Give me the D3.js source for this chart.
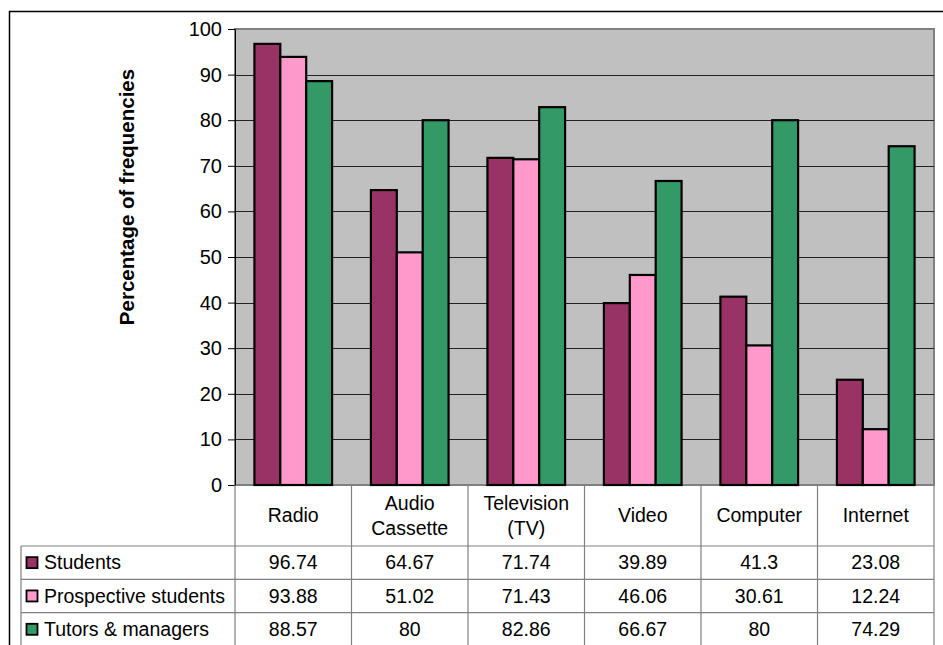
<!DOCTYPE html>
<html><head><meta charset="utf-8">
<script src="https://cdn.jsdelivr.net/npm/d3@7"></script>
<style>body{margin:0;background:#fff}svg{display:block}text{font-family:"Liberation Sans",Arial,sans-serif;fill:#000}</style>
</head><body>
<script>
const categories = ["Radio", "Audio Cassette", "Television (TV)", "Video", "Computer", "Internet"];
const categoryLines = [["Radio"], ["Audio", "Cassette"], ["Television", "(TV)"], ["Video"], ["Computer"], ["Internet"]];
const seriesNames = ["Students", "Prospective students", "Tutors & managers"];
const students = [96.74, 64.67, 71.74, 39.89, 41.3, 23.08];
const prospective = [93.88, 51.02, 71.43, 46.06, 30.61, 12.24];
const tutors = [88.57, 80, 82.86, 66.67, 80, 74.29];
const tableLabels = [
  ["96.74", "64.67", "71.74", "39.89", "41.3", "23.08"],
  ["93.88", "51.02", "71.43", "46.06", "30.61", "12.24"],
  ["88.57", "80", "82.86", "66.67", "80", "74.29"]
];
const yTicks = [0, 10, 20, 30, 40, 50, 60, 70, 80, 90, 100];
const colors = ["#993366", "#FF99CC", "#339966"];
const yTitle = "Percentage of frequencies";

const seriesValues = [students, prospective, tutors];
const W = 943, H = 645;
const svg = d3.select("body").append("svg").attr("width", W).attr("height", H);

// outer chart border
svg.append("rect").attr("x", 9.5).attr("y", 11.5).attr("width", W + 20).attr("height", H + 20)
  .attr("fill", "#fff").attr("stroke", "#000").attr("stroke-width", 1.5);

const plot = {left: 235, right: 934, top: 29, bottom: 485};
const x0 = d3.scaleBand().domain(categories).range([plot.left, plot.right]).paddingInner(0).paddingOuter(0);
const x1 = d3.scaleBand().domain(seriesNames).range([0, x0.bandwidth()]).paddingInner(0).paddingOuter(0.75);
const y = d3.scaleLinear().domain([0, 100]).range([plot.bottom, plot.top]);

// plot background
svg.append("rect").attr("x", plot.left).attr("y", plot.top)
  .attr("width", plot.right - plot.left).attr("height", plot.bottom - plot.top)
  .attr("fill", "#C0C0C0").attr("stroke", "#808080").attr("stroke-width", 2);

// gridlines
svg.append("g").selectAll("line").data(yTicks.filter(t => t > 0 && t < 100)).join("line")
  .attr("x1", plot.left).attr("x2", plot.right)
  .attr("y1", d => Math.round(y(d)) + 0.5).attr("y2", d => Math.round(y(d)) + 0.5)
  .attr("stroke", "#222").attr("stroke-width", 1.2);

// bars
const groups = svg.append("g").selectAll("g").data(categories).join("g")
  .attr("transform", d => `translate(${x0(d)},0)`);
groups.selectAll("rect").data((c, i) => seriesNames.map((s, j) => ({s, v: seriesValues[j][i], j})))
  .join("rect")
  .attr("x", d => x1(d.s)).attr("width", x1.bandwidth())
  .attr("y", d => y(d.v)).attr("height", d => y(0) - y(d.v))
  .attr("fill", d => colors[d.j]).attr("stroke", "#000").attr("stroke-width", 2.2);

// y axis
const yAxis = d3.axisLeft(y).tickValues(yTicks).tickSize(7).tickPadding(6).tickFormat(d3.format("d"));
const ya = svg.append("g").attr("transform", `translate(${plot.left},0)`).call(yAxis);
ya.select(".domain").attr("stroke", "#000").attr("stroke-width", 1);
ya.selectAll(".tick line").attr("stroke", "#000");
ya.selectAll(".tick text").attr("font-size", 20).attr("font-family", "Liberation Sans, Arial, sans-serif").attr("fill", "#000");

// y title
svg.append("text").attr("transform", "translate(134,197) rotate(-90)")
  .attr("text-anchor", "middle").attr("font-size", 20.5).attr("font-weight", "bold").text(yTitle);

// data table
const rowTops = [485, 546, 579.3, 612.6, 646];
const tableLeft = 21;
const grid = svg.append("g").attr("stroke", "#808080").attr("stroke-width", 1.2);
rowTops.slice(1).forEach(yy => {
  grid.append("line").attr("x1", tableLeft).attr("x2", plot.right).attr("y1", yy).attr("y2", yy);
});
grid.append("line").attr("x1", tableLeft).attr("x2", tableLeft).attr("y1", rowTops[1]).attr("y2", H + 5);
categories.forEach(c => {
  grid.append("line").attr("x1", x0(c)).attr("x2", x0(c)).attr("y1", plot.bottom).attr("y2", H + 5);
});
grid.append("line").attr("x1", plot.right).attr("x2", plot.right).attr("y1", plot.bottom).attr("y2", H + 5);

// header labels
const headerMid = (rowTops[0] + rowTops[1]) / 2;
categories.forEach((c, i) => {
  const lines = categoryLines[i];
  const t = svg.append("text").attr("text-anchor", "middle").attr("font-size", 19.5)
    .attr("x", x0(c) + x0.bandwidth() / 2);
  const lh = 25;
  lines.forEach((ln, k) => {
    t.append("tspan").attr("x", x0(c) + x0.bandwidth() / 2)
      .attr("y", headerMid + (k - (lines.length - 1) / 2) * lh).attr("dy", "0.35em").text(ln);
  });
});

// rows
seriesNames.forEach((s, j) => {
  const mid = (rowTops[j + 1] + rowTops[j + 2]) / 2;
  svg.append("rect").attr("x", 26.5).attr("y", mid - 5.5).attr("width", 11).attr("height", 11)
    .attr("fill", colors[j]).attr("stroke", "#000").attr("stroke-width", 1.8);
  svg.append("text").attr("x", 44).attr("y", mid).attr("dy", "0.35em").attr("font-size", 19.5).text(s);
  categories.forEach((c, i) => {
    svg.append("text").attr("x", x0(c) + x0.bandwidth() / 2).attr("y", mid).attr("dy", "0.35em")
      .attr("text-anchor", "middle").attr("font-size", 19.5).text(tableLabels[j][i]);
  });
});
</script>
</body></html>
